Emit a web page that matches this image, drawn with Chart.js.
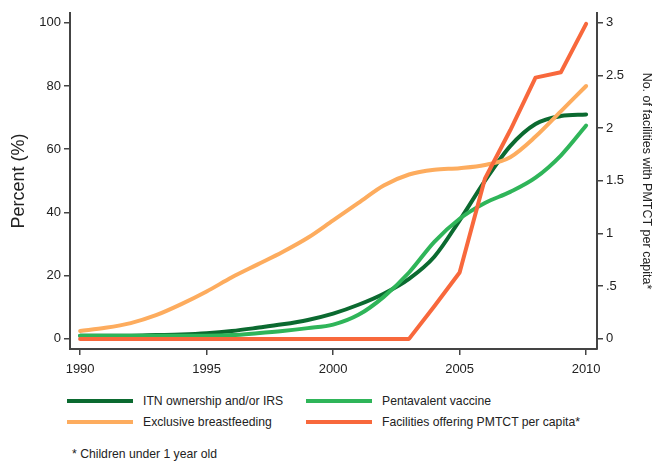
<!DOCTYPE html>
<html>
<head>
<meta charset="utf-8">
<script src="https://cdn.jsdelivr.net/npm/chart.js@4/dist/chart.umd.min.js"></script>
<style>
  body { margin: 0; background: #fff; font-family: "Liberation Sans", Arial, sans-serif; }
  #wrap { position: relative; width: 658px; height: 461px; }
  #box { position: absolute; left: 0; top: 0; width: 658px; height: 382px; }
  .leg { position: absolute; font-size: 12.2px; color: #222; line-height: 14px; white-space: nowrap; }
  .sw { position: absolute; width: 66px; height: 4px; }
</style>
</head>
<body>
<div id="wrap">
  <div id="box"><canvas id="myChart"></canvas></div>
  <div class="sw" style="left:67px;top:399px;background:#0b6a30"></div>
  <div class="leg" style="left:143px;top:394px">ITN ownership and/or IRS</div>
  <div class="sw" style="left:306px;top:399px;background:#2fb559"></div>
  <div class="leg" style="left:382px;top:394px">Pentavalent vaccine</div>
  <div class="sw" style="left:67px;top:420px;background:#fdac5e"></div>
  <div class="leg" style="left:143px;top:415px">Exclusive breastfeeding</div>
  <div class="sw" style="left:306px;top:420px;background:#f8683c"></div>
  <div class="leg" style="left:382px;top:415px">Facilities offering PMTCT per capita*</div>
  <div class="leg" style="left:72px;top:447px">* Children under 1 year old</div>
</div>
<script>
const years = [1990,1991,1992,1993,1994,1995,1996,1997,1998,1999,2000,2001,2002,2003,2004,2005,2006,2007,2008,2009,2010];
const itn   = [1,1,1,1.2,1.4,1.8,2.5,3.5,4.6,6,8,10.8,14.3,19,26,37.5,50,61,68,70.5,71];
const penta = [1,1,1,1,1,1,1.2,1.8,2.5,3.4,4.5,7.6,13.3,21,30.7,38,43,46.5,51,58,67.5];
const ebf   = [2.5,3.5,5,7.5,11,15,19.5,23.5,27.5,32,37.5,43,48.5,52,53.5,54,55,57.5,64,72,80];
const pmtct = [0,0,0,0,0,0,0,0,0,0,0,0,0,0,0.31,0.63,1.52,1.98,2.48,2.53,2.99];
const leftTicks = [0,20,40,60,80,100];
const rightTicks = [0,0.5,1,1.5,2,2.5,3];
const xTicks = [1990,1995,2000,2005,2010];

const pts = (arr) => years.map((yr, i) => ({ x: yr, y: arr[i] }));
const axisColor = "#444";
const tickFont = { family: "Liberation Sans, Arial", size: 13 };

const line = (label, arr, color, axis, smooth) => ({
  label: label,
  data: pts(arr),
  borderColor: color,
  backgroundColor: color,
  borderWidth: 4,
  pointRadius: 0,
  yAxisID: axis,
  cubicInterpolationMode: smooth ? "monotone" : "default",
  tension: 0,
  borderCapStyle: "round",
  borderJoinStyle: "round"
});

new Chart(document.getElementById("myChart"), {
  type: "line",
  data: {
    datasets: [
      line("Facilities offering PMTCT per capita*", pmtct, "#f8683c", "y2", false),
      line("Exclusive breastfeeding", ebf, "#fdac5e", "y", true),
      line("Pentavalent vaccine", penta, "#2fb559", "y", true),
      line("ITN ownership and/or IRS", itn, "#0b6a30", "y", true)
    ]
  },
  options: {
    responsive: true,
    maintainAspectRatio: false,
    animation: false,
    layout: { padding: { top: 13, left: 0, right: 0, bottom: 0 } },
    plugins: { legend: { display: false }, tooltip: { enabled: false } },
    scales: {
      x: {
        type: "linear",
        min: 1989.6,
        max: 2010.43,
        afterBuildTicks: (s) => { s.ticks = xTicks.map(v => ({ value: v })); },
        afterFit: (s) => { s.height = 33; },
        border: { color: axisColor, width: 2 },
        grid: { drawOnChartArea: false, color: axisColor, tickLength: 6, lineWidth: 1.5 },
        ticks: { color: "#222", font: tickFont, padding: 7, maxRotation: 0, callback: v => String(v) }
      },
      y: {
        position: "left",
        min: -3.2,
        max: 103.1,
        afterBuildTicks: (s) => { s.ticks = leftTicks.map(v => ({ value: v })); },
        afterFit: (s) => { s.width = 70; },
        border: { color: axisColor, width: 2 },
        grid: { drawOnChartArea: false, color: axisColor, tickLength: 6, lineWidth: 1.5 },
        ticks: { color: "#222", font: tickFont, padding: 3 },
        title: { display: true, text: "Percent (%)", color: "#222", font: { family: "Liberation Sans, Arial", size: 18 }, padding: { top: 8, bottom: 4 } }
      },
      y2: {
        position: "right",
        min: -0.096,
        max: 3.093,
        afterBuildTicks: (s) => { s.ticks = rightTicks.map(v => ({ value: v })); },
        afterFit: (s) => { s.width = 61; },
        border: { color: axisColor, width: 2 },
        grid: { drawOnChartArea: false, color: axisColor, tickLength: 6, lineWidth: 1.5 },
        ticks: { color: "#222", font: tickFont, padding: 3, callback: v => (v === 0.5 ? ".5" : String(v)) },
        title: { display: true, text: "No. of facilities with PMTCT per capita*", color: "#222", font: { family: "Liberation Sans, Arial", size: 12.5 }, padding: { top: 4, bottom: 0 } }
      }
    }
  }
});
</script>
</body>
</html>
